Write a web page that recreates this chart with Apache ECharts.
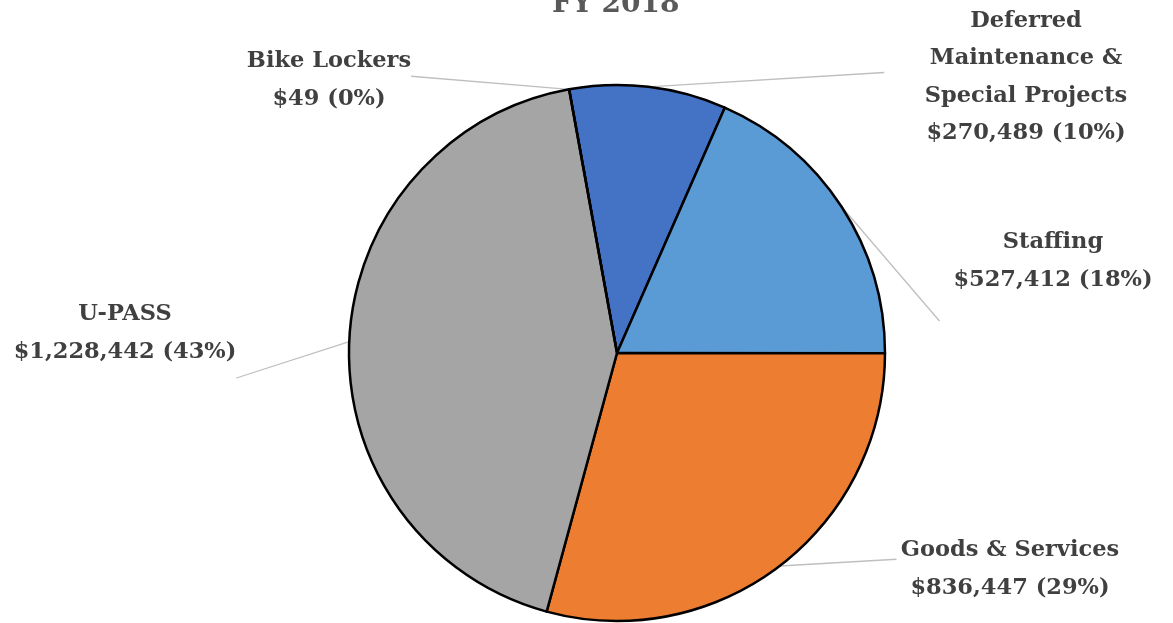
<!DOCTYPE html>
<html>
<head>
<meta charset="utf-8">
<script src="https://cdn.jsdelivr.net/npm/echarts@6/dist/echarts.min.js"></script>
<style>
  html, body { margin: 0; padding: 0; background: #fff; }
  #main { width: 1173px; height: 623px; }
</style>
</head>
<body>
<div id="main"></div>
<script>
// data
var categories = ['Deferred\nMaintenance &\nSpecial Projects', 'Staffing', 'Goods & Services', 'U-PASS', 'Bike Lockers'];
var amounts = [270489, 527412, 836447, 1228442, 49];
var colors = ['#4472C4', '#5B9BD5', '#ED7D31', '#A5A5A5', '#FFC000'];

// where each label sits (centre) and where its leader line meets it (fraction of label box)
var labelPos = [[1026, 77], [1053, 261], [1010, 569], [125, 333], [329, 80]];
var lineAnchor = [[-0.2, 0.47], [-0.07, 1.3], [-0.02, 0.37], [1.0, 1.1], [1.0, 0.45]];

var chart = echarts.init(document.getElementById('main'));

var pieData = categories.map(function (c, i) {
  return { name: c, value: amounts[i], itemStyle: { color: colors[i] } };
});

chart.setOption({
  backgroundColor: '#fff',
  animation: false,
  title: {
    text: 'FY 2018',
    left: 547,
    top: -14,
    textStyle: { fontFamily: 'DejaVu Serif', fontWeight: 'bold', fontSize: 28, color: '#595959' }
  },
  series: [{
    type: 'pie',
    center: [617, 353],
    radius: 268,
    startAngle: 100.3,
    percentPrecision: 0,
    avoidLabelOverlap: false,
    data: pieData,
    itemStyle: { borderColor: '#000', borderWidth: 2.5 },
    label: {
      show: true,
      position: 'outside',
      fontFamily: 'DejaVu Serif',
      fontWeight: 'bold',
      fontSize: 22.5,
      lineHeight: 37.5,
      color: '#404040',
      align: 'center',
      formatter: function (p) {
        return p.name + '\n$' + p.value.toLocaleString('en-US') + ' (' + p.percent + '%)';
      }
    },
    labelLine: {
      show: true,
      length: 20,
      length2: 20,
      lineStyle: { color: '#bfbfbf', width: 1.3 }
    },
    labelLayout: function (params) {
      var i = params.dataIndex;
      var w = params.labelRect.width, h = params.labelRect.height;
      var cx = labelPos[i][0], cy = labelPos[i][1];
      var start = params.labelLinePoints ? params.labelLinePoints[0] : [cx, cy];
      var end = [cx - w / 2 + lineAnchor[i][0] * w, cy - h / 2 + lineAnchor[i][1] * h];
      return {
        x: cx,
        y: cy,
        align: 'center',
        verticalAlign: 'middle',
        labelLinePoints: [start, end, end]
      };
    }
  }]
});
</script>
</body>
</html>
